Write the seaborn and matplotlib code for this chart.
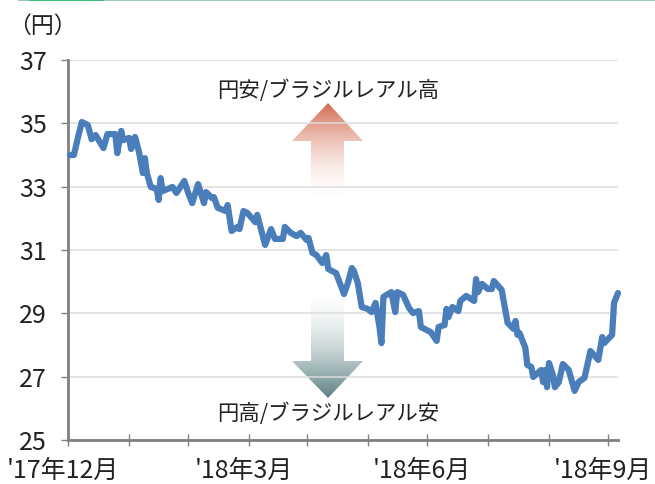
import numpy as np
import pandas as pd
import matplotlib
matplotlib.use("Agg")
import matplotlib.pyplot as plt
import seaborn as sns
from matplotlib.patches import Polygon, Rectangle
from matplotlib.colors import to_rgb
from matplotlib.transforms import ScaledTranslation

# position along the axis (calendar-like steps from the start of the series)
days = [1, 3, 5, 7, 10, 12, 14, 18, 20, 24, 25, 27, 28, 31, 32, 34, 36, 38, 39, 40,
        42, 45, 46, 47, 48, 53, 55, 59, 61, 63, 66, 69, 70, 73, 74, 76, 80, 81, 83, 86,
        87, 89, 91, 95, 96, 100, 103, 105, 109, 110, 113, 116, 118, 121, 122, 124, 126, 129, 131, 132,
        136, 140, 142, 144, 145, 147, 149, 152, 154, 156, 158, 159, 160, 164, 166, 167, 170, 173, 175, 178,
        179, 182, 184, 187, 188, 191, 192, 193, 195, 198, 199, 202, 206, 207, 208, 210, 213, 215, 216, 220,
        223, 226, 227, 228, 229, 232, 233, 235, 236, 240, 241, 242, 243, 244, 246, 247, 249, 251, 254, 257,
        259, 262, 265, 269, 271, 272, 276, 277, 279]
rate = [34.0, 34.0, 34.54, 35.04, 34.95, 34.5, 34.63, 34.22, 34.66, 34.66, 34.06, 34.76, 34.47, 34.54, 34.19, 34.57, 34.1, 33.43, 33.9, 33.43,
        32.99, 32.93, 32.58, 33.27, 32.86, 32.99, 32.8, 33.18, 32.8, 32.48, 33.08, 32.48, 32.83, 32.64, 32.67, 32.33, 32.23, 32.42, 31.6, 31.73,
        31.66, 32.23, 32.17, 31.88, 32.11, 31.16, 31.66, 31.35, 31.35, 31.73, 31.54, 31.44, 31.54, 31.32, 31.38, 30.91, 30.84, 30.59, 30.84, 30.4,
        30.27, 29.61, 29.96, 30.43, 30.34, 29.96, 29.2, 29.14, 29.04, 29.33, 28.57, 28.06, 29.52, 29.67, 29.04, 29.67, 29.58, 29.17, 29.01, 29.07,
        28.57, 28.47, 28.41, 28.13, 28.57, 28.63, 29.14, 28.88, 29.2, 29.07, 29.39, 29.55, 29.39, 30.08, 29.67, 29.93, 29.77, 29.77, 30.02, 29.74,
        28.7, 28.51, 28.76, 28.32, 28.38, 27.91, 27.37, 27.31, 26.99, 27.21, 26.83, 27.21, 26.67, 27.43, 27.05, 26.67, 26.83, 27.4, 27.21, 26.55,
        26.83, 26.96, 27.81, 27.53, 28.25, 28.06, 28.32, 29.33, 29.64]
tick_pos = [0, 31, 61, 92, 121, 152, 182, 213, 244, 274]
tick_text = ["'17年12月", "", "", "'18年3月", "", "", "'18年6月", "", "", "'18年9月"]
y_ticks = [25, 27, 29, 31, 33, 35, 37]

df = pd.DataFrame({"day": days, "rate": rate})

sns.set_theme(style="white")
plt.rcParams['font.family'] = ['Noto Sans CJK JP', 'DejaVu Sans']

W, H = 655, 484
fig = plt.figure(figsize=(W / 100, H / 100), dpi=100, facecolor="white")

# pixel overlay for the arrows, sits under the chart
bg = fig.add_axes([0, 0, 1, 1], zorder=0)
bg.set_xlim(0, W)
bg.set_ylim(H, 0)
bg.axis("off")


def gradient_arrow(pts, y0, y1, col0, col1, a0, a1):
    # vertical gradient clipped to the arrow outline
    n = 200
    rgba = np.zeros((n, 1, 4))
    t = np.linspace(0, 1, n)
    c0, c1 = np.array(to_rgb(col0)), np.array(to_rgb(col1))
    rgba[:, 0, :3] = c0[None, :] * (1 - t[:, None]) + c1[None, :] * t[:, None]
    rgba[:, 0, 3] = a0 * (1 - t) + a1 * t
    im = bg.imshow(rgba, extent=[280, 375, y1, y0], aspect="auto", zorder=1,
                   interpolation="bilinear")
    bg.set_xlim(0, W)
    bg.set_ylim(H, 0)
    im.set_clip_path(Polygon(pts, closed=True, transform=bg.transData))


gradient_arrow([(328, 103), (363, 141), (344, 141), (344, 197), (311, 197), (311, 141), (292, 141)],
               103, 197, "#d4694f", "#f7e4de", 1, 0)
gradient_arrow([(311, 292), (344, 292), (344, 361), (363, 361), (328, 398), (292, 361), (311, 361)],
               292, 398, "#e3e9ea", "#5a7f80", 0, 1)

# cropped band at the top edge of the picture
bg.add_patch(Rectangle((18, 0), W - 18, 1.2, color="#9cc4c0", lw=0))
bg.add_patch(Rectangle((29, 0), 75, 1.4, color="#3dbb7d", lw=0))

ax = fig.add_axes([68 / W, 1 - 440 / H, 550 / W, 380 / H], zorder=1)
ax.patch.set_alpha(0)
sns.lineplot(data=df, x="day", y="rate", ax=ax, color="#4a7ebb", linewidth=4.5,
             solid_joinstyle="round", solid_capstyle="round", clip_on=False, zorder=3)

ax.set_xlim(0, 279)
ax.set_ylim(25, 37)
ax.set_xlabel("")
ax.set_ylabel("")
ax.set_yticks(y_ticks)
ax.set_xticks(tick_pos)
ax.set_xticklabels(tick_text)
ax.grid(axis="y", color="#dcdcdc", linewidth=1.1)
ax.set_axisbelow(True)
for s in ["top", "right"]:
    ax.spines[s].set_visible(False)
for s in ["left", "bottom"]:
    ax.spines[s].set_color("#808080")
    ax.spines[s].set_linewidth(2)
ax.tick_params(axis="y", left=True, length=5, width=1, color="#808080", pad=10,
               labelsize=18, labelcolor="#222222")
ax.tick_params(axis="x", bottom=True, direction="inout", length=8, width=1, color="#808080",
               pad=9, labelsize=18, labelcolor="#222222")

# month labels sit a little left of their ticks
shift = ScaledTranslation(-5 / 100, 0, fig.dpi_scale_trans)
for lab in ax.get_xticklabels():
    lab.set_transform(lab.get_transform() + shift)

bg.text(42, 26, "（円）", ha="center", va="center", fontsize=16.5, color="#222222")
bg.text(328, 91, "円安/ブラジルレアル高", ha="center", va="center", fontsize=15.4, color="#222222")
bg.text(328, 414, "円高/ブラジルレアル安", ha="center", va="center", fontsize=15.4, color="#222222")

fig.savefig("out.png", dpi=100)
